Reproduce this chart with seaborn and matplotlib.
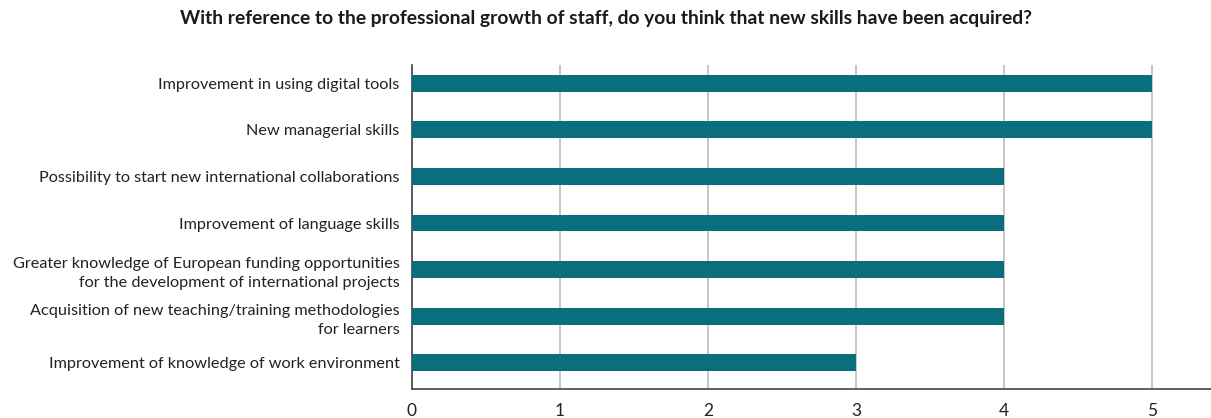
import matplotlib
matplotlib.use("Agg")
import matplotlib.pyplot as plt
import seaborn as sns
import pandas as pd

categories = [
    "Improvement in using digital tools",
    "New managerial skills",
    "Possibility to start new international collaborations",
    "Improvement of language skills",
    "Greater knowledge of European funding opportunities\nfor the development of international projects",
    "Acquisition of new teaching/training methodologies\nfor learners",
    "Improvement of knowledge of work environment",
]
values = [5, 5, 4, 4, 4, 4, 3]
x_ticks = [0, 1, 2, 3, 4, 5]

title = "With reference to the professional growth of staff, do you think that new skills have been acquired?"

sns.set_theme(style="white")
plt.rcParams["font.family"] = ["Lato", "DejaVu Sans"]

df = pd.DataFrame({"category": categories, "value": values})

fig = plt.figure(figsize=(12.11, 4.18), dpi=100)
ax = fig.add_axes([0.3402, 0.0694, 0.6598, 0.7751])

sns.barplot(data=df, y="category", x="value", orient="h", color="#0b6e7c",
            saturation=1, width=0.36, linewidth=0, ax=ax, zorder=3)

ax.set_xlim(0, 5.4)
ax.set_ylim(6.56, -0.39)
ax.set_xticks(x_ticks)
ax.xaxis.grid(True, color="#bdbdbd", linewidth=1.2, zorder=0)
ax.set_axisbelow(True)
ax.set_xlabel("")
ax.set_ylabel("")

for side in ["top", "right"]:
    ax.spines[side].set_visible(False)
for side in ["left", "bottom"]:
    ax.spines[side].set_color("#444444")
    ax.spines[side].set_linewidth(1.2)

ax.tick_params(axis="x", direction="in", length=6, width=1.2, color="#444444",
               labelsize=12.5, pad=10, labelcolor="#222222")
ax.tick_params(axis="y", length=0, labelsize=11.7, pad=9, labelcolor="#222222")
for lbl in ax.get_yticklabels():
    lbl.set_horizontalalignment("right")
    lbl.set_multialignment("right")
    lbl.set_linespacing(1.45)

fig.text(0.5, 0.955, title, ha="center", va="center", fontsize=13.9,
         fontweight="bold", color="#1a1a1a")

fig.savefig("out.png", dpi=100)
